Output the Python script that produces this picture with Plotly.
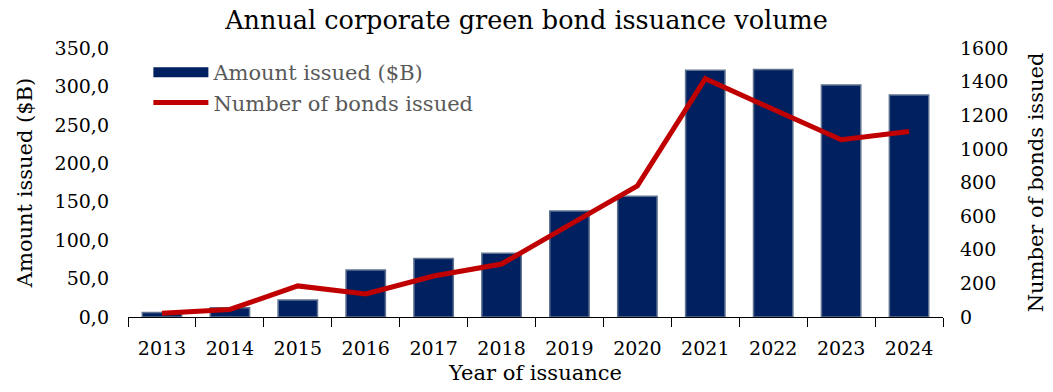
import plotly.graph_objects as go

years = ["2013", "2014", "2015", "2016", "2017", "2018", "2019", "2020", "2021", "2022", "2023", "2024"]
amount_issued = [6.0, 12.0, 22.0, 61.0, 76.0, 83.0, 138.0, 157.0, 321.0, 322.0, 302.0, 289.0]
bonds_issued = [22, 45, 185, 137, 244, 315, 548, 780, 1417, 1235, 1054, 1103]

FONT = "DejaVu Serif"
TICK = 19

fig = go.Figure()
fig.add_trace(go.Bar(
    x=years, y=amount_issued, name="Amount issued ($B)", showlegend=False,
    marker=dict(color="#002060", line=dict(color="#5F7391", width=1.5)),
    yaxis="y",
))
# legend entry drawn as a wide bar-coloured swatch
fig.add_trace(go.Scatter(
    x=[None], y=[None], name="Amount issued ($B)", mode="lines",
    line=dict(color="#002060", width=13), yaxis="y",
))
fig.add_trace(go.Scatter(
    x=years, y=bonds_issued, name="Number of bonds issued",
    mode="lines", line=dict(color="#C00000", width=5),
    yaxis="y2",
))

fig.update_layout(
    width=1053, height=392,
    margin=dict(l=128, r=110, t=48, b=75),
    paper_bgcolor="white", plot_bgcolor="white",
    separators=",.",
    bargap=0.42,
    font=dict(family=FONT, color="black", size=TICK),
    title=dict(text="Annual corporate green bond issuance volume",
               x=0.5, xanchor="center", y=0.95, yanchor="middle",
               font=dict(family=FONT, size=25.5, color="black")),
    xaxis=dict(
        type="category", showline=True, linecolor="black", linewidth=1.2,
        ticks="outside", ticklen=9, tickcolor="black", tickson="boundaries",
        tickfont=dict(family=FONT, size=TICK), ticklabelstandoff=14,
        title=dict(text="Year of issuance", font=dict(family=FONT, size=21), standoff=7),
        showgrid=False, automargin=False,
    ),
    yaxis=dict(
        range=[0, 350], dtick=50, tickformat=".1f", showgrid=False, zeroline=False,
        tickfont=dict(family=FONT, size=TICK), ticklabelstandoff=18,
        title=dict(text="Amount issued ($B)", font=dict(family=FONT, size=21), standoff=16),
        automargin=False,
    ),
    yaxis2=dict(
        range=[0, 1600], dtick=200, overlaying="y", side="right", showgrid=False, zeroline=False,
        tickfont=dict(family=FONT, size=TICK), ticklabelstandoff=16,
        title=dict(text="Number of bonds issued", font=dict(family=FONT, size=21), standoff=20),
        automargin=False,
    ),
    legend=dict(
        x=0.025, y=0.985, xanchor="left", yanchor="top",
        font=dict(family=FONT, size=21, color="#595959"),
        bgcolor="rgba(0,0,0,0)", itemwidth=55, tracegroupgap=0,
    ),
)

fig.write_html("out.html")
